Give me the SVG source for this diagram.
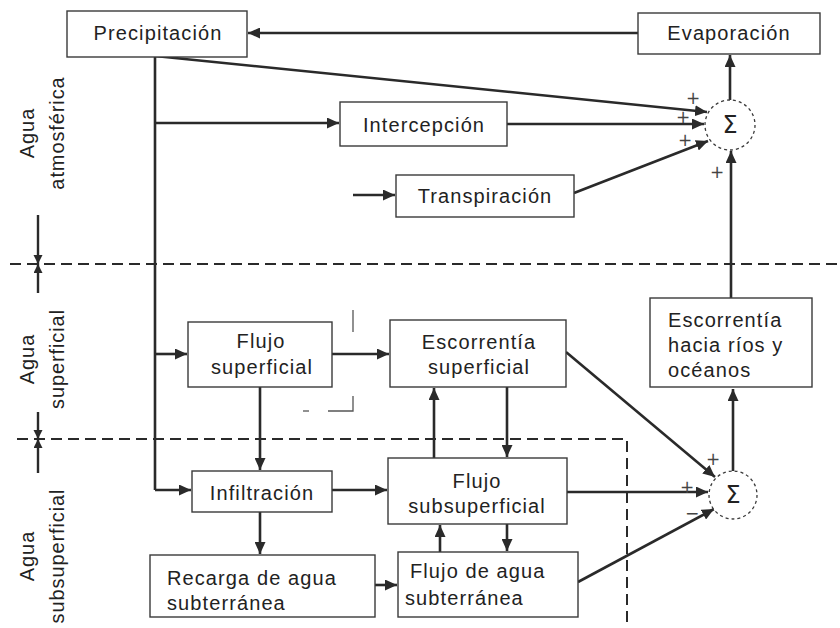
<svg xmlns="http://www.w3.org/2000/svg" width="840" height="628" viewBox="0 0 840 628">
<defs>
<marker id="ah" markerUnits="userSpaceOnUse" markerWidth="13" markerHeight="11" refX="12" refY="5.5" orient="auto">
<path d="M0,0 L12,5.5 L0,11 z" fill="#2a2a2a"/>
</marker>
<marker id="sm" markerUnits="userSpaceOnUse" markerWidth="10" markerHeight="10" refX="9" refY="4.5" orient="auto">
<path d="M0,0 L9,4.5 L0,9 z" fill="#2a2a2a"/>
</marker>
<style>
.box{fill:#fff;stroke:#3a3a3a;stroke-width:1.4}
.t{font-family:"Liberation Sans",Arial,sans-serif;font-size:20px;letter-spacing:1.1px;fill:#222}
.c{text-anchor:middle}
.lbl{font-family:"Liberation Sans",Arial,sans-serif;font-size:20px;letter-spacing:0.9px;fill:#222;text-anchor:middle}
.con{fill:none;stroke:#2a2a2a;stroke-width:2.6;marker-end:url(#ah)}
.ln{fill:none;stroke:#2a2a2a;stroke-width:2.6}
.dash{fill:none;stroke:#2a2a2a;stroke-width:2;stroke-dasharray:11,6}
.sum{fill:#fff;stroke:#3a3a3a;stroke-width:1.3;stroke-dasharray:3,3}
.sg{font-family:"DejaVu Sans",sans-serif;font-size:17px;fill:#444;text-anchor:middle}
.sig{font-family:"DejaVu Sans",sans-serif;font-size:24px;fill:#222;text-anchor:middle}
.mark{fill:none;stroke:#555;stroke-width:1.3}
.dim{fill:none;stroke:#2a2a2a;stroke-width:2.4;marker-end:url(#sm)}
</style>
</defs>

<!-- layer separators -->
<g id="separators">
<path class="dash" d="M10,264 L840,264"/>
<path class="dash" d="M17,439 L627,439 L627,628"/>
<path class="dim" d="M38,215 L38,264"/>
<path class="dim" d="M38,293 L38,264"/>
<path class="dim" d="M38,412 L38,439"/>
<path class="dim" d="M38,473 L38,439"/>
</g>

<g id="labels">
<g transform="translate(34,133) rotate(-90)"><text class="lbl" x="0" y="0">Agua</text></g>
<g transform="translate(64,133) rotate(-90)"><text class="lbl" x="0" y="0">atmosférica</text></g>
<g transform="translate(34,359) rotate(-90)"><text class="lbl" x="0" y="0">Agua</text></g>
<g transform="translate(64,359) rotate(-90)"><text class="lbl" x="0" y="0">superficial</text></g>
<g transform="translate(34,556) rotate(-90)"><text class="lbl" x="0" y="0">Agua</text></g>
<g transform="translate(64,556) rotate(-90)"><text class="lbl" x="0" y="0">subsuperficial</text></g>
</g>

<g id="connectors">
<path class="con" d="M638,33 L248,33"/>
<path class="ln" d="M155,57 L155,490"/>
<path class="con" d="M155,490 L191,490"/>
<path class="con" d="M155,123 L339,123"/>
<path class="con" d="M155,354 L187,354"/>
<path class="con" d="M155,56 L707,112"/>
<path class="con" d="M507,124 L704,124"/>
<path class="con" d="M353,195 L395,195"/>
<path class="con" d="M574,193 L708,141"/>
<path class="con" d="M730,100 L730,55"/>
<path class="con" d="M731,298 L731,151"/>
<path class="con" d="M332,354 L389,354"/>
<path class="con" d="M260,387 L260,470"/>
<path class="con" d="M332,490 L387,490"/>
<path class="con" d="M260,512 L260,554"/>
<path class="con" d="M375,585 L397,585"/>
<path class="con" d="M440,552 L440,525"/>
<path class="con" d="M507,524 L507,551"/>
<path class="con" d="M434,458 L434,388"/>
<path class="con" d="M507,387 L507,457"/>
<path class="con" d="M566,352 L715,477"/>
<path class="con" d="M567,492 L708,492"/>
<path class="con" d="M578,582 L714,509"/>
<path class="con" d="M733,471 L733,389"/>
</g>

<g id="marks">
<path class="mark" d="M353,310 L353,332"/>
<path class="mark" d="M353,396 L353,411 L328,411"/>
<path class="mark" d="M303,411 L309,411"/>
</g>

<g id="precipitacion">
<rect class="box" x="67" y="11" width="180" height="46"/>
<text class="t c" x="158" y="40">Precipitación</text>
</g>
<g id="evaporacion">
<rect class="box" x="638" y="13" width="182" height="41"/>
<text class="t c" x="729" y="40">Evaporación</text>
</g>
<g id="intercepcion">
<rect class="box" x="340" y="102" width="167" height="44"/>
<text class="t c" x="424" y="132">Intercepción</text>
</g>
<g id="transpiracion">
<rect class="box" x="396" y="175" width="178" height="42"/>
<text class="t c" x="485" y="203">Transpiración</text>
</g>
<g id="flujo-superficial">
<rect class="box" x="188" y="322" width="144" height="65"/>
<text class="t c" x="261" y="348">Flujo</text>
<text class="t c" x="262" y="374">superficial</text>
</g>
<g id="escorrentia-superficial">
<rect class="box" x="390" y="320" width="176" height="67"/>
<text class="t c" x="479" y="349">Escorrentía</text>
<text class="t c" x="479" y="374">superficial</text>
</g>
<g id="escorrentia-rios">
<rect class="box" x="650" y="298" width="162" height="89"/>
<text class="t" x="668" y="327">Escorrentía</text>
<text class="t" x="668" y="352">hacia ríos y</text>
<text class="t" x="668" y="377">océanos</text>
</g>
<g id="infiltracion">
<rect class="box" x="192" y="471" width="140" height="41"/>
<text class="t c" x="262" y="500">Infiltración</text>
</g>
<g id="flujo-subsuperficial">
<rect class="box" x="388" y="458" width="179" height="66"/>
<text class="t c" x="477" y="488">Flujo</text>
<text class="t c" x="477" y="513">subsuperficial</text>
</g>
<g id="recarga">
<rect class="box" x="150" y="555" width="225" height="62"/>
<text class="t" x="167" y="585">Recarga de agua</text>
<text class="t" x="167" y="610">subterránea</text>
</g>
<g id="flujo-subterranea">
<rect class="box" x="398" y="552" width="180" height="65"/>
<text class="t" x="410" y="578">Flujo de agua</text>
<text class="t" x="405" y="605">subterránea</text>
</g>

<g id="suma-1">
<circle class="sum" cx="730" cy="125" r="25"/>
<text class="sig" x="730" y="133">Σ</text>
<text class="sg" x="693" y="104">+</text>
<text class="sg" x="683" y="123">+</text>
<text class="sg" x="685" y="146">+</text>
<text class="sg" x="717" y="178">+</text>
</g>
<g id="suma-2">
<circle class="sum" cx="733" cy="495" r="24"/>
<text class="sig" x="733" y="503">Σ</text>
<text class="sg" x="713" y="465">+</text>
<text class="sg" x="687" y="493">+</text>
<text class="sg" x="692" y="519">−</text>
</g>
</svg>
